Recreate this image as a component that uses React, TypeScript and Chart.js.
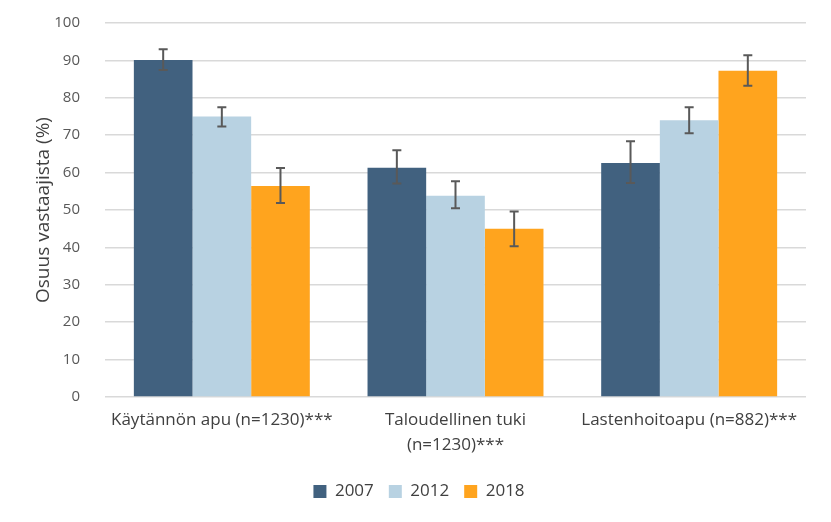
import React, { useEffect, useRef } from "react";
import { Chart, registerables } from "chart.js";

Chart.register(...registerables);

const categories: string[][] = [
  ["Käytännön apu (n=1230)***"],
  ["Taloudellinen tuki", "(n=1230)***"],
  ["Lastenhoitoapu (n=882)***"],
];
const seriesNames = ["2007", "2012", "2018"];
const values2007 = [90.1, 61.3, 62.6];
const values2012 = [75.0, 53.8, 74.0];
const values2018 = [56.4, 45.0, 87.2];
const lower2007 = [87.4, 57.1, 57.2];
const upper2007 = [93.0, 66.0, 68.4];
const lower2012 = [72.3, 50.5, 70.5];
const upper2012 = [77.5, 57.7, 77.5];
const lower2018 = [51.9, 40.3, 83.2];
const upper2018 = [61.2, 49.6, 91.4];
const colors = ["#41617f", "#b8d2e2", "#ffa41e"];

const lowers = [lower2007, lower2012, lower2018];
const uppers = [upper2007, upper2012, upper2018];

const errorBarPlugin = {
  id: "errorBars",
  afterDatasetsDraw(chart: any) {
    const ctx = chart.ctx;
    const y = chart.scales.y;
    ctx.save();
    ctx.strokeStyle = "#595959";
    ctx.lineWidth = 2;
    chart.data.datasets.forEach((_ds: any, i: number) => {
      const meta = chart.getDatasetMeta(i);
      meta.data.forEach((el: any, j: number) => {
        const x = el.x;
        const yl = y.getPixelForValue(lowers[i][j]);
        const yu = y.getPixelForValue(uppers[i][j]);
        const cap = 4.5;
        ctx.beginPath();
        ctx.moveTo(x, yl);
        ctx.lineTo(x, yu);
        ctx.moveTo(x - cap, yl);
        ctx.lineTo(x + cap, yl);
        ctx.moveTo(x - cap, yu);
        ctx.lineTo(x + cap, yu);
        ctx.stroke();
      });
    });
    ctx.restore();
  },
};

export default function App() {
  const ref = useRef<HTMLCanvasElement>(null);
  useEffect(() => {
    if (!ref.current) return;
    const font = "'Open Sans', sans-serif";
    const chart = new Chart(ref.current, {
      type: "bar",
      data: {
        labels: categories as any,
        datasets: [values2007, values2012, values2018].map((d, i) => ({
          label: seriesNames[i],
          data: d,
          backgroundColor: colors[i],
          barPercentage: 1,
          categoryPercentage: 0.753,
        })),
      },
      options: {
        animation: false,
        responsive: true,
        maintainAspectRatio: false,
        layout: { padding: { top: 23, right: 25, left: 32, bottom: 12 } },
        plugins: {
          tooltip: { enabled: false },
          legend: {
            position: "bottom",
            labels: {
              boxWidth: 13,
              boxHeight: 13,
              padding: 15,
              color: "#404040",
              font: { family: font, size: 17 },
            },
          },
        },
        scales: {
          x: {
            grid: { display: false, drawTicks: false },
            border: { display: false },
            afterFit: (scale: any) => {
              scale.paddingLeft = 0;
              scale.paddingRight = 0;
            },
            ticks: {
              color: "#404040",
              font: { family: font, size: 17, lineHeight: 1.5 },
              maxRotation: 0,
              autoSkip: false,
              padding: 10,
            },
          },
          y: {
            min: 0,
            max: 100,
            afterFit: (scale: any) => {
              scale.width = 73;
              scale.paddingTop = 9;
              scale.paddingBottom = 9;
            },
            ticks: {
              stepSize: 10,
              color: "#595959",
              font: { family: font, size: 15 },
              padding: 25,
            },
            grid: { color: "#d9d9d9", lineWidth: 1.5, drawTicks: false },
            border: { display: false },
            title: {
              display: true,
              text: "Osuus vastaajista (%)",
              color: "#404040",
              font: { family: font, size: 19 },
              padding: { top: 0, bottom: 0 },
            },
          },
        },
      },
      plugins: [errorBarPlugin],
    });
    return () => chart.destroy();
  }, []);
  return (
    <div style={{ position: "fixed", left: 0, top: 0, width: 831, height: 522, background: "#fff" }}>
      <canvas ref={ref} />
    </div>
  );
}
